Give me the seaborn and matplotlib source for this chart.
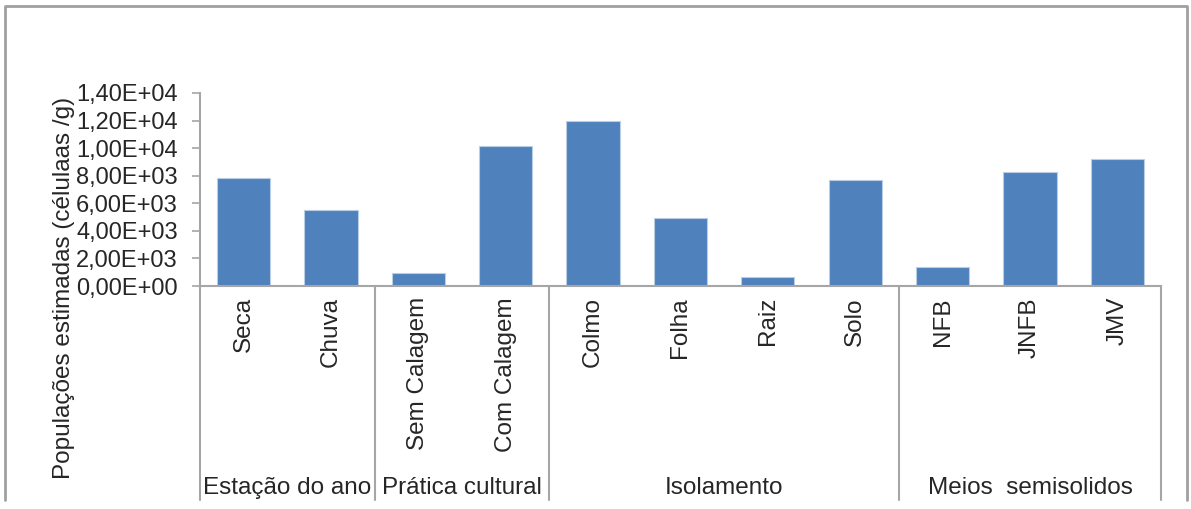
import pandas as pd
import seaborn as sns
import matplotlib.pyplot as plt
import matplotlib.ticker as mticker

# Data
groups = ['Estação do ano', 'Estação do ano',
          'Prática cultural', 'Prática cultural',
          'Isolamento', 'Isolamento', 'Isolamento', 'Isolamento',
          'Meios  semisolidos', 'Meios  semisolidos', 'Meios  semisolidos']
categories = ['Seca', 'Chuva', 'Sem Calagem', 'Com Calagem',
              'Colmo', 'Folha', 'Raiz', 'Solo', 'NFB', 'JNFB', 'JMV']
populacoes = [7800, 5520, 920, 10150, 11960, 4950, 660, 7680, 1400, 8300, 9200]

df = pd.DataFrame({'grupo': groups, 'categoria': categories, 'pop': populacoes})

sns.set_style('white')
plt.rcParams['font.family'] = ['Liberation Sans', 'DejaVu Sans']

fig = plt.figure(figsize=(11.91, 5.09), dpi=100)
ax = fig.add_axes([0.1679, 0.4381, 0.8069, 0.3792])

sns.barplot(data=df, x='categoria', y='pop', order=categories, color='#4F81BD',
            saturation=1, width=0.61, edgecolor='#B9CDE5', linewidth=0.8, ax=ax)

gray = '#A6A6A6'
ax.set_xlim(-0.5, len(categories) - 0.5)
ax.set_ylim(0, 14000)
ax.set_yticks(range(0, 14001, 2000))
ax.yaxis.set_major_formatter(mticker.FuncFormatter(lambda v, p: f'{v:.2E}'.replace('.', ',')))
ax.tick_params(axis='y', labelsize=17, length=6, width=1.2, color=gray, pad=10, left=True)
ax.tick_params(axis='x', labelsize=17.5, length=0, pad=8)
plt.setp(ax.get_xticklabels(), rotation=90, va='top', ha='center')

for side in ['top', 'right']:
    ax.spines[side].set_visible(False)
for side in ['left', 'bottom']:
    ax.spines[side].set_color(gray)
    ax.spines[side].set_linewidth(1.5)

ax.set_xlabel('')
ax.set_ylabel('Populações estimadas (célulaas /g)', fontsize=17.5)
ax.yaxis.set_label_coords(-0.13, -0.01)

# Group separators and group labels under the category axis
trans = ax.get_xaxis_transform()
bounds = [-0.5]
names = []
for g in df['grupo']:
    if g not in names:
        names.append(g)
for g in names:
    idx = df.index[df['grupo'] == g]
    bounds.append(idx.max() + 0.5)
    ax.text((idx.min() + idx.max()) / 2, -1.045, g, transform=trans,
            ha='center', va='center', fontsize=17.5)
for b in bounds:
    ax.plot([b, b], [0, -1.11], transform=trans, color=gray, lw=1.5, clip_on=False)

# Outer chart frame (open at the bottom)
fig.add_artist(plt.Line2D([0.0045, 0.0045, 0.9965, 0.9965],
                          [0.018, 0.988, 0.988, 0.018],
                          transform=fig.transFigure, color='#A0A0A0', lw=2))

fig.savefig('out.png', dpi=100)
